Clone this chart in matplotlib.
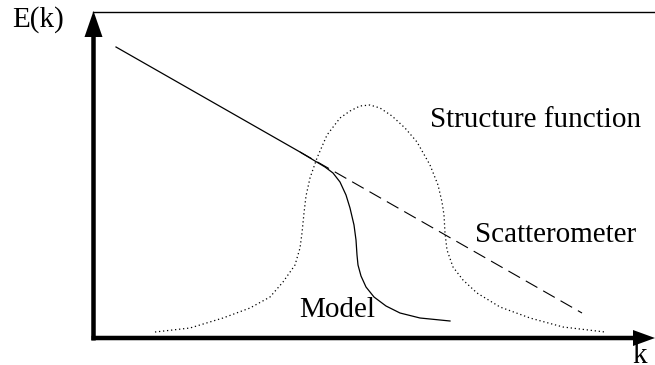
import matplotlib
matplotlib.use("Agg")
from matplotlib import pyplot as plt

# ------------------------------------------------------------------------------
# Curves (k, E in picture units, E grows downward)
# ------------------------------------------------------------------------------
model_k = [116, 300, 315, 325, 333, 340, 346, 350, 354, 356, 357, 358, 361, 366,
           374, 386, 400, 420, 450]
model_E = [47, 152, 161, 167, 173, 182, 195, 208, 225, 240, 255, 265, 276, 287,
           297, 306, 313, 318, 321]

scatter_k = [300, 582]
scatter_E = [152, 313]

struct_k = [155, 190, 223, 250, 270, 283, 295, 300, 302, 304, 306, 310, 317, 327,
            340, 350, 360, 370, 380, 392, 405, 417, 430, 438, 442, 444, 445, 447,
            453, 463, 477, 500, 530, 563, 605]
struct_E = [332, 328, 318, 308, 297, 282, 265, 248, 233, 213, 196, 178, 158, 135,
            118, 111, 106, 105, 108, 116, 128, 142, 165, 185, 202, 215, 233, 250,
            267, 280, 293, 307, 318, 327, 332]

labels = ["E(k)", "k", "Structure function", "Scatterometer", "Model"]
label_pos = [(12, 27), (632, 363), (430, 127), (475, 242), (299, 317)]

# ------------------------------------------------------------------------------
# Plot
# ------------------------------------------------------------------------------
plt.rcParams['lines.scale_dashes'] = False
fig = plt.figure(figsize=(6.55, 3.65), dpi=100)
ax = fig.add_axes([0, 0, 1, 1])
ax.set_xlim(0, 655)
ax.set_ylim(365, 0)
ax.axis('off')

# axes arrows and top rule
ax.arrow(93.5, 340.5, 0, -329.5, width=4.5, head_width=18, head_length=26,
         length_includes_head=True, fc='k', ec='k', lw=0)
ax.arrow(91.5, 338, 563.5, 0, width=4.5, head_width=16, head_length=22,
         length_includes_head=True, fc='k', ec='k', lw=0)
ax.plot([93, 655], [12, 12], color='k', lw=1.0)

ax.plot(struct_k, struct_E, color='k', lw=0.9, linestyle=(0, (0.9, 2.0)))
ax.plot(scatter_k, scatter_E, color='k', lw=0.8, linestyle=(0, (9.6, 4.8)))
ax.plot(model_k, model_E, color='k', lw=0.9)

for txt, (x, y) in zip(labels, label_pos):
    ax.text(x, y, txt, family='Liberation Serif', fontsize=21,
            ha='left', va='baseline')

fig.savefig('out.png', dpi=100)
